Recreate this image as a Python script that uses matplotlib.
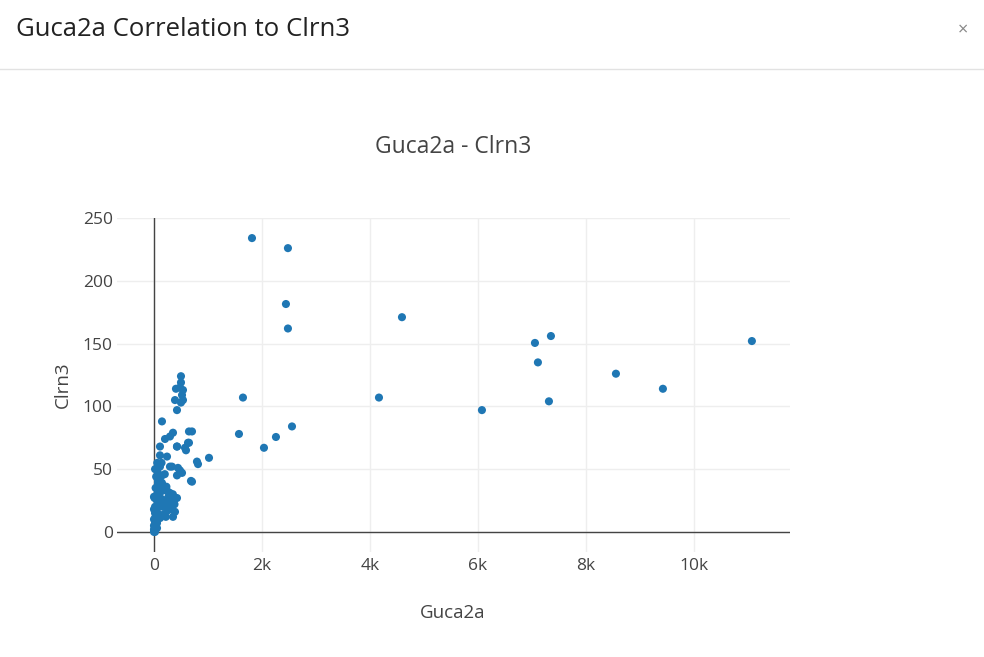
import matplotlib.pyplot as plt
from matplotlib.lines import Line2D

# Guca2a (x) vs Clrn3 (y)
guca2a = [
    1815, 2481, 2444, 2481, 4593, 7056, 7352, 7111, 7315, 8556, 9426, 11074,
    4167, 6074, 1648, 1574, 2037, 2259, 2556, 1019, 685,
    500, 500, 481, 407, 537, 519, 389, 537, 500, 426, 148, 704, 648, 352,
    296, 204, 426, 648, 593, 111, 111, 241, 796, 815, 296, 444, 519, 704,
    111, 74, 74, 167, 296, 426, 56, 241, 389, 352, 19, 56, 19,
    630, 333, 481, 426, 74, 148, 111, 259, 352, 19, 167, 56, 111, 19, 56,
    0, 574, 426,
    0, 0, 0, 0, 30, 40, 20, 60, 10, 0, 5, 100, 130, 200, 230, 270, 300,
    320, 350, 380, 150, 180, 220, 250, 90, 60, 140, 30, 80, 120,
]
clrn3 = [
    234, 226, 181.5, 162, 171, 150.5, 156, 135, 104, 126, 114, 152,
    107, 97, 107, 78, 67, 75.6, 84, 59, 40.6,
    124, 119, 115, 114, 113, 109, 105, 105, 103, 97, 88, 80, 80, 79,
    76, 74, 68, 71, 65, 68, 61, 60, 56, 54, 52, 51, 47, 40,
    52, 47, 39, 33, 31, 27, 25, 23, 16, 12, 15, 7, 0,
    71, 52, 49, 45, 41, 39, 33, 32, 25, 20, 20, 16, 11, 7, 3,
    0, 67, 68,
    5, 10, 18, 28, 35, 44, 50, 55, 27, 2, 1, 30, 44, 46, 36, 28, 20,
    18, 30, 22, 26, 14, 12, 17, 22, 30, 55, 12, 20, 35,
]

x_ticks = [0, 2000, 4000, 6000, 8000, 10000]
x_tick_labels = ["0", "2k", "4k", "6k", "8k", "10k"]
y_ticks = [0, 50, 100, 150, 200, 250]

plt.rcParams['font.family'] = ['Open Sans', 'DejaVu Sans']

fig = plt.figure(figsize=(9.84, 6.57), dpi=100)
fig.patch.set_facecolor('white')

# modal header
fig.text(16 / 984, 1 - 30 / 657, "Guca2a Correlation to Clrn3", fontsize=18.5,
         color='#222222', va='center', ha='left')
fig.text(963 / 984, 1 - 30 / 657, "\u00d7", fontsize=13, color='#888888',
         va='center', ha='center')
fig.add_artist(Line2D([0, 1], [1 - 69 / 657, 1 - 69 / 657], color='#e2e2e2',
                      linewidth=1))

ax = fig.add_axes([117 / 984, (657 - 552) / 657, (790 - 117) / 984, (552 - 218) / 657])
ax.scatter(guca2a, clrn3, s=34, color='#1f77b4', edgecolors='none', zorder=3)

ax.set_xlim(-685, 11780)
ax.set_ylim(-16, 250)
ax.set_xticks(x_ticks)
ax.set_xticklabels(x_tick_labels)
ax.set_yticks(y_ticks)

for s in ax.spines.values():
    s.set_visible(False)
ax.grid(True, color='#eeeeee', linewidth=1, zorder=0)
ax.axhline(0, color='#444444', linewidth=1, zorder=2)
ax.axvline(0, color='#444444', linewidth=1, zorder=2)
ax.tick_params(length=0, labelsize=12.5, colors='#444444')
ax.tick_params(axis='x', pad=4)
ax.tick_params(axis='y', pad=3)

# axis titles and chart title placed like the reference
fig.text(453 / 984, 1 - 613 / 657, "Guca2a", fontsize=13.5, color='#444444',
         ha='center', va='center')
fig.text(63 / 984, 1 - 385 / 657, "Clrn3", fontsize=13.5, color='#444444',
         ha='center', va='center', rotation=90)
fig.text(453 / 984, 1 - 147 / 657, "Guca2a - Clrn3", fontsize=16.5,
         color='#444444', ha='center', va='center')

fig.savefig("out.png", dpi=100)
